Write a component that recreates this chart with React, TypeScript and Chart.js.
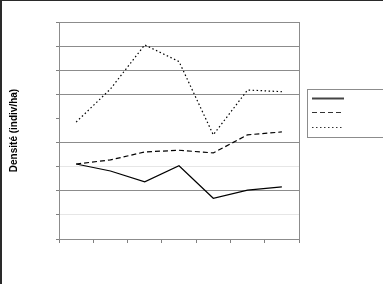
import React, { useEffect, useRef } from "react";
import { Chart, registerables } from "chart.js";

Chart.register(...registerables);

const categories = ["1", "2", "3", "4", "5", "6", "7"];
const seriesSolid = [3.11, 2.82, 2.37, 3.04, 1.69, 2.03, 2.16];
const seriesDashed = [3.11, 3.28, 3.61, 3.68, 3.57, 4.32, 4.44];
const seriesDotted = [4.85, 6.22, 8.05, 7.36, 4.32, 6.18, 6.11];
const yTitle = "Densité (indiv/ha)";
const yMin = 0;
const yMax = 9;
const lightGridValues = [1, 3];
const hiddenGridValues = [5];

const framePlugin = {
  id: "framePlugin",
  beforeDatasetsDraw(chart: any) {
    const { ctx, chartArea } = chart;
    ctx.save();
    ctx.strokeStyle = "#8c8c8c";
    ctx.lineWidth = 1;
    ctx.strokeRect(
      Math.round(chartArea.left) + 0.5,
      Math.round(chartArea.top) + 0.5,
      Math.round(chartArea.right - chartArea.left),
      Math.round(chartArea.bottom - chartArea.top)
    );
    ctx.restore();
  },
  afterDraw(chart: any) {
    const { ctx } = chart;
    ctx.save();
    // outer image border (top + left)
    ctx.fillStyle = "#2a2a2a";
    ctx.fillRect(0, 0, chart.width, 1);
    ctx.fillRect(0, 0, 2, chart.height);
    // legend box
    const lx = 307;
    const ly = 89;
    ctx.strokeStyle = "#8c8c8c";
    ctx.lineWidth = 1;
    ctx.strokeRect(lx + 0.5, ly + 0.5, 120, 48);
    const samples = [
      { y: 98, dash: [] as number[], w: 2, c: "#444" },
      { y: 112, dash: [5, 3], w: 1, c: "#333" },
      { y: 127, dash: [1.5, 2.5], w: 1, c: "#333" },
    ];
    for (const s of samples) {
      ctx.beginPath();
      ctx.setLineDash(s.dash);
      ctx.lineWidth = s.w;
      ctx.strokeStyle = s.c;
      ctx.moveTo(312, s.y + 0.5);
      ctx.lineTo(344, s.y + 0.5);
      ctx.stroke();
    }
    ctx.restore();
  },
};

export default function App() {
  const canvasRef = useRef<HTMLCanvasElement | null>(null);

  useEffect(() => {
    if (!canvasRef.current) return;
    const chart = new Chart(canvasRef.current, {
      type: "line",
      data: {
        labels: categories,
        datasets: [
          {
            label: "A",
            data: seriesSolid,
            borderColor: "#000",
            borderWidth: 1.2,
            pointRadius: 0,
            tension: 0,
          },
          {
            label: "B",
            data: seriesDashed,
            borderColor: "#000",
            borderWidth: 1.2,
            borderDash: [5, 3],
            pointRadius: 0,
            tension: 0,
          },
          {
            label: "C",
            data: seriesDotted,
            borderColor: "#000",
            borderWidth: 1.2,
            borderDash: [1.5, 2.5],
            pointRadius: 0,
            tension: 0,
          },
        ],
      },
      options: {
        animation: false,
        responsive: false,
        devicePixelRatio: 1,
        layout: { padding: { left: 0, top: 22, right: 84, bottom: 0 } },
        plugins: {
          legend: { display: false },
          tooltip: { enabled: false },
        },
        scales: {
          x: {
            type: "category",
            offset: true,
            grid: {
              offset: true,
              drawOnChartArea: false,
              drawTicks: true,
              tickLength: 4,
              tickColor: "#808080",
            },
            border: { color: "#808080" },
            ticks: { display: false },
            afterFit: (scale: any) => {
              scale.height = 45;
            },
          },
          y: {
            min: yMin,
            max: yMax,
            ticks: { display: false, stepSize: 1 },
            grid: {
              color: (ctx: any) => {
                const v = ctx.tick ? ctx.tick.value : 0;
                if (hiddenGridValues.includes(v)) return "rgba(0,0,0,0)";
                if (lightGridValues.includes(v)) return "#e6e6e6";
                return "#8c8c8c";
              },
              tickColor: "#808080",
              tickLength: 3,
              drawTicks: true,
            },
            border: { color: "#808080" },
            title: {
              display: true,
              text: yTitle,
              color: "#000",
              font: { family: "'Liberation Sans', Arial, sans-serif", size: 10, weight: "bold" },
              padding: { top: 8, bottom: 0 },
            },
            afterFit: (scale: any) => {
              scale.width = 59;
            },
          },
        },
      },
      plugins: [framePlugin],
    });
    return () => chart.destroy();
  }, []);

  return (
    <div style={{ position: "fixed", left: 0, top: 0, width: 383, height: 284, background: "#fff" }}>
      <canvas ref={canvasRef} width={383} height={284} style={{ display: "block" }} />
    </div>
  );
}
